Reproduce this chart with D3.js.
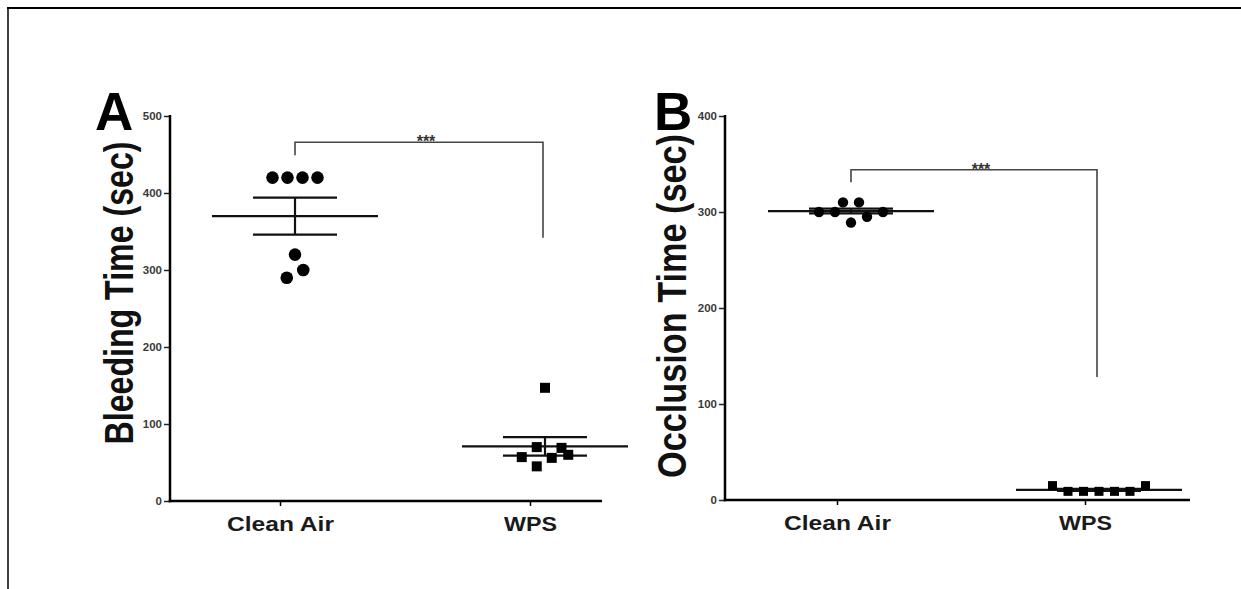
<!DOCTYPE html>
<html>
<head>
<meta charset="utf-8">
<script src="https://cdn.jsdelivr.net/npm/d3@7"></script>
<style>
  html, body { margin: 0; padding: 0; background: #fff; }
  svg { display: block; }
  text { font-family: "Liberation Sans", Arial, Helvetica, sans-serif; }
</style>
</head>
<body>
<svg id="chart" width="1241" height="589"></svg>
<script>
// ---------------- DATA ----------------
const categories = ["Clean Air", "WPS"];

// Panel A – Bleeding Time (sec)
const ticksA = [0, 100, 200, 300, 400, 500];
const bleedCleanAir = [420, 420, 420, 420, 320, 300, 290];
const bleedCleanAirSlot = [-1.5, -0.5, 0.5, 1.5, 0, 0.55, -0.55];   // scatter column (in marker widths)
const bleedWPS = [147, 70, 69, 60, 56, 57, 45];
const bleedWPSSlot = [0, -0.55, 1.1, 1.55, 0.45, -1.55, -0.55];
const bleedMean = [370, 71];
const bleedSEM = [24, 12];
const bleedBracket = [466, 449, 342];   // top, left leg end, right leg end (sec)

// Panel B – Occlusion Time (sec)
const ticksB = [0, 100, 200, 300, 400];
const occCleanAir = [300, 300, 310, 310, 289, 295, 300];
const occCleanAirSlot = [-2, -1, -0.5, 0.5, 0, 1, 2];
const occWPS = [15, 9, 9, 9, 9, 9, 15];
const occWPSSlot = [-3, -2, -1, 0, 1, 2, 3];
const occMean = [301, 10.5];
const occSEM = [2.5, 1];
const occBracket = [344, 331, 128];

const sigLabel = "***";

// ---------------- DRAW ----------------
const svg = d3.select("#chart");

// outer frame
svg.append("line").attr("x1", 7).attr("x2", 1241).attr("y1", 8).attr("y2", 8)
  .attr("stroke", "#000").attr("stroke-width", 2);
svg.append("line").attr("x1", 8).attr("x2", 8).attr("y1", 7).attr("y2", 589)
  .attr("stroke", "#000").attr("stroke-width", 1.5);

function panel(cfg) {
  const g = svg.append("g");
  const y = d3.scaleLinear().domain(cfg.domain).range([cfg.y0, cfg.y1]);
  const x = d3.scalePoint().domain(categories).range(cfg.tickX);
  const cx = c => x(c) + cfg.dataShift;

  // y axis
  const ya = g.append("g").attr("transform", `translate(${cfg.axisX},0)`)
    .call(d3.axisLeft(y).tickValues(cfg.ticks).tickSize(6).tickPadding(2).tickSizeOuter(0));
  ya.select(".domain").remove();
  ya.selectAll(".tick line").attr("stroke", "#222").attr("stroke-width", 1.5);
  ya.selectAll(".tick text").attr("font-size", 11.5).attr("font-weight", "bold")
    .attr("fill", "#3a3a3a").attr("font-family", "Liberation Sans, Arial, sans-serif");
  g.append("line").attr("x1", cfg.axisX).attr("x2", cfg.axisX)
    .attr("y1", y(cfg.domain[1]) - 1).attr("y2", cfg.y0 + 1.2)
    .attr("stroke", "#000").attr("stroke-width", 2.5);

  // x axis
  const xa = g.append("g").attr("transform", `translate(0,${cfg.y0})`)
    .call(d3.axisBottom(x).tickSize(5).tickPadding(6).tickSizeOuter(0));
  xa.select(".domain").remove();
  xa.selectAll(".tick line").attr("stroke", "#000").attr("stroke-width", 1.5);
  xa.selectAll(".tick text").attr("font-size", 21).attr("font-weight", "bold")
    .attr("fill", "#1a1a1a").attr("font-family", "Liberation Sans, Arial, sans-serif")
    .attr("dy", "0.9em")
    .attr("textLength", d => d === "WPS" ? 53 : 107).attr("lengthAdjust", "spacingAndGlyphs");
  g.append("line").attr("x1", cfg.axisX - 1.2).attr("x2", cfg.axisEnd)
    .attr("y1", cfg.y0).attr("y2", cfg.y0)
    .attr("stroke", "#000").attr("stroke-width", 2.5);

  // y axis title
  g.append("text")
    .attr("transform", `translate(${cfg.titleX},${cfg.titleY}) rotate(-90)`)
    .attr("text-anchor", "middle")
    .attr("font-size", 40).attr("font-weight", "bold").attr("fill", "#111")
    .attr("textLength", cfg.titleLen).attr("lengthAdjust", "spacingAndGlyphs")
    .text(cfg.title);

  // panel letter
  g.append("text").attr("x", cfg.letterX).attr("y", 130)
    .attr("font-size", 53).attr("font-weight", "bold").attr("fill", "#000")
    .text(cfg.letter);

  // mean & SEM
  categories.forEach((c, i) => {
    const xc = cx(c);
    g.append("line").attr("x1", xc - 83).attr("x2", xc + 83)
      .attr("y1", y(cfg.mean[i])).attr("y2", y(cfg.mean[i]))
      .attr("stroke", "#111").attr("stroke-width", 2.2);
    [cfg.mean[i] + cfg.sem[i], cfg.mean[i] - cfg.sem[i]].forEach(v => {
      g.append("line").attr("x1", xc - 42).attr("x2", xc + 42)
        .attr("y1", y(v)).attr("y2", y(v))
        .attr("stroke", "#111").attr("stroke-width", 2.2);
    });
    g.append("line").attr("x1", xc).attr("x2", xc)
      .attr("y1", y(cfg.mean[i] + cfg.sem[i])).attr("y2", y(cfg.mean[i] - cfg.sem[i]))
      .attr("stroke", "#111").attr("stroke-width", 2.2);
  });

  // circles (Clean Air)
  g.selectAll("circle.pt").data(cfg.ca).enter().append("circle")
    .attr("cx", (d, i) => cx(categories[0]) + cfg.caSlot[i] * cfg.slotW)
    .attr("cy", d => y(d)).attr("r", cfg.r).attr("fill", "#000");

  // squares (WPS)
  g.selectAll("rect.pt").data(cfg.wps).enter().append("rect")
    .attr("x", (d, i) => cx(categories[1]) + cfg.wpsSlot[i] * cfg.slotW2 - cfg.sq / 2)
    .attr("y", d => y(d) - cfg.sq / 2)
    .attr("width", cfg.sq).attr("height", cfg.sq).attr("fill", "#000");

  // significance bracket
  const xl = cx(categories[0]), xr = cx(categories[1]) - 2;
  const b = cfg.bracket;
  g.append("path")
    .attr("d", `M${xl},${y(b[1])}V${y(b[0])}H${xr}V${y(b[2])}`)
    .attr("fill", "none").attr("stroke", "#444").attr("stroke-width", 1.6);
  g.append("text").attr("x", (xl + xr) / 2 + 7).attr("y", y(b[0]) + 5)
    .attr("text-anchor", "middle").attr("font-size", 16).attr("font-weight", "bold")
    .attr("fill", "#333").text(sigLabel);
}

panel({
  domain: [0, 500], y0: 501, y1: 116, ticks: ticksA,
  axisX: 170, axisEnd: 602, tickX: [280, 530], dataShift: 15,
  title: "Bleeding Time (sec)", titleX: 133, titleY: 293, titleLen: 303,
  letter: "A", letterX: 95,
  mean: bleedMean, sem: bleedSEM,
  ca: bleedCleanAir, caSlot: bleedCleanAirSlot, slotW: 15, r: 6.3,
  wps: bleedWPS, wpsSlot: bleedWPSSlot, slotW2: 15, sq: 10,
  bracket: bleedBracket
});

panel({
  domain: [0, 400], y0: 500, y1: 116, ticks: ticksB,
  axisX: 725, axisEnd: 1190, tickX: [837, 1085], dataShift: 14,
  title: "Occlusion Time (sec)", titleX: 686, titleY: 306, titleLen: 344,
  letter: "B", letterX: 654,
  mean: occMean, sem: occSEM,
  ca: occCleanAir, caSlot: occCleanAirSlot, slotW: 16, r: 5.2,
  wps: occWPS, wpsSlot: occWPSSlot, slotW2: 15.5, sq: 9,
  bracket: occBracket
});
</script>
</body>
</html>
